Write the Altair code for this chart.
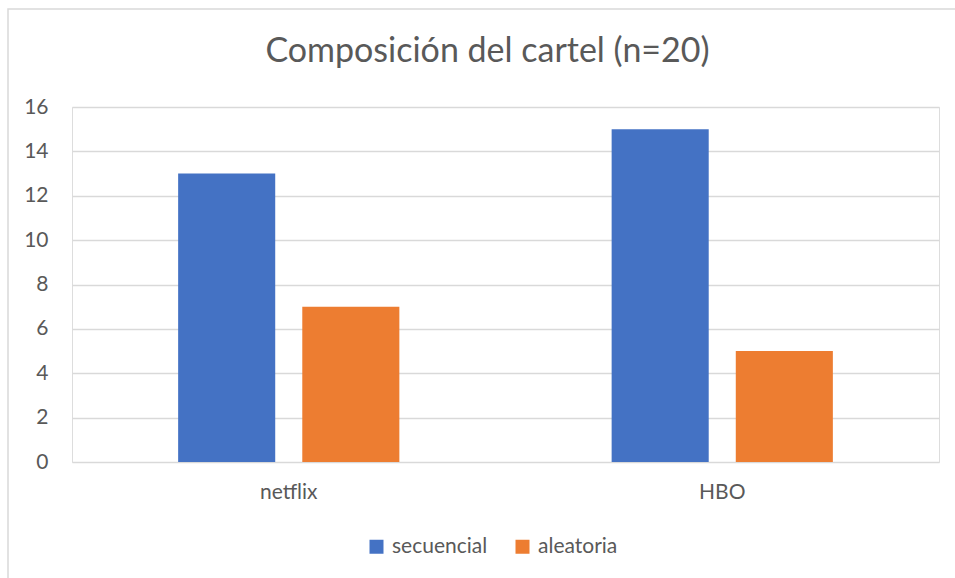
import altair as alt
import pandas as pd

categories = ["netflix", "HBO"]
series = ["secuencial", "aleatoria"]
secuencial = [13, 15]
aleatoria = [7, 5]
colors = ["#4472C4", "#ED7D31"]
y_ticks = [0, 2, 4, 6, 8, 10, 12, 14, 16]

rows = []
for i, c in enumerate(categories):
    rows.append({"plataforma": c, "serie": "secuencial", "valor": secuencial[i]})
    rows.append({"plataforma": c, "serie": "aleatoria", "valor": aleatoria[i]})
df = pd.DataFrame(rows)

FONT = "Lato"
GRAY = "#595959"

border = alt.Chart(pd.DataFrame({"a": [0]})).mark_rect(
    fillOpacity=0, stroke="#D9D9D9", strokeWidth=1.5
).encode(
    x=alt.value(-64), x2=alt.value(900), y=alt.value(-98), y2=alt.value(490)
)

bars = alt.Chart(df).mark_bar().encode(
    x=alt.X("plataforma:N", sort=categories,
            scale=alt.Scale(paddingInner=0, paddingOuter=0),
            axis=alt.Axis(title=None, labelAngle=0, domain=False, ticks=False,
                          labelFont=FONT, labelFontSize=21, labelColor=GRAY,
                          labelPadding=19)),
    xOffset=alt.XOffset("serie:N", sort=series,
                        scale=alt.Scale(paddingInner=0.218, paddingOuter=0.855)),
    y=alt.Y("valor:Q",
            scale=alt.Scale(domain=[0, 16], nice=False),
            axis=alt.Axis(title=None, values=y_ticks, domain=False, ticks=False,
                          grid=True, gridColor="#D9D9D9", gridWidth=1.5,
                          labelFont=FONT, labelFontSize=21, labelColor=GRAY,
                          labelPadding=24)),
    color=alt.Color("serie:N", sort=series,
                    scale=alt.Scale(domain=series, range=colors),
                    legend=alt.Legend(title=None, orient="none", direction="horizontal",
                                      legendX=294, legendY=429,
                                      symbolType="square", symbolSize=196,
                                      symbolStrokeWidth=0,
                                      labelFont=FONT, labelFontSize=21, labelColor=GRAY,
                                      labelOffset=5, columnPadding=24)),
)

chart = alt.layer(border, bars).properties(
    width=867, height=355,
    title=alt.TitleParams("Composición del cartel (n=20)", font=FONT, fontSize=34,
                          fontWeight="normal", color=GRAY, anchor="middle",
                          dx=-18, offset=-61),
    autosize=alt.AutoSizeParams(type="none"),
    padding={"left": 72, "top": 107, "right": 16, "bottom": 116},
).configure_view(stroke=None).configure(background="white")

chart.save("out.html", embed_options={"renderer": "svg", "actions": False})
